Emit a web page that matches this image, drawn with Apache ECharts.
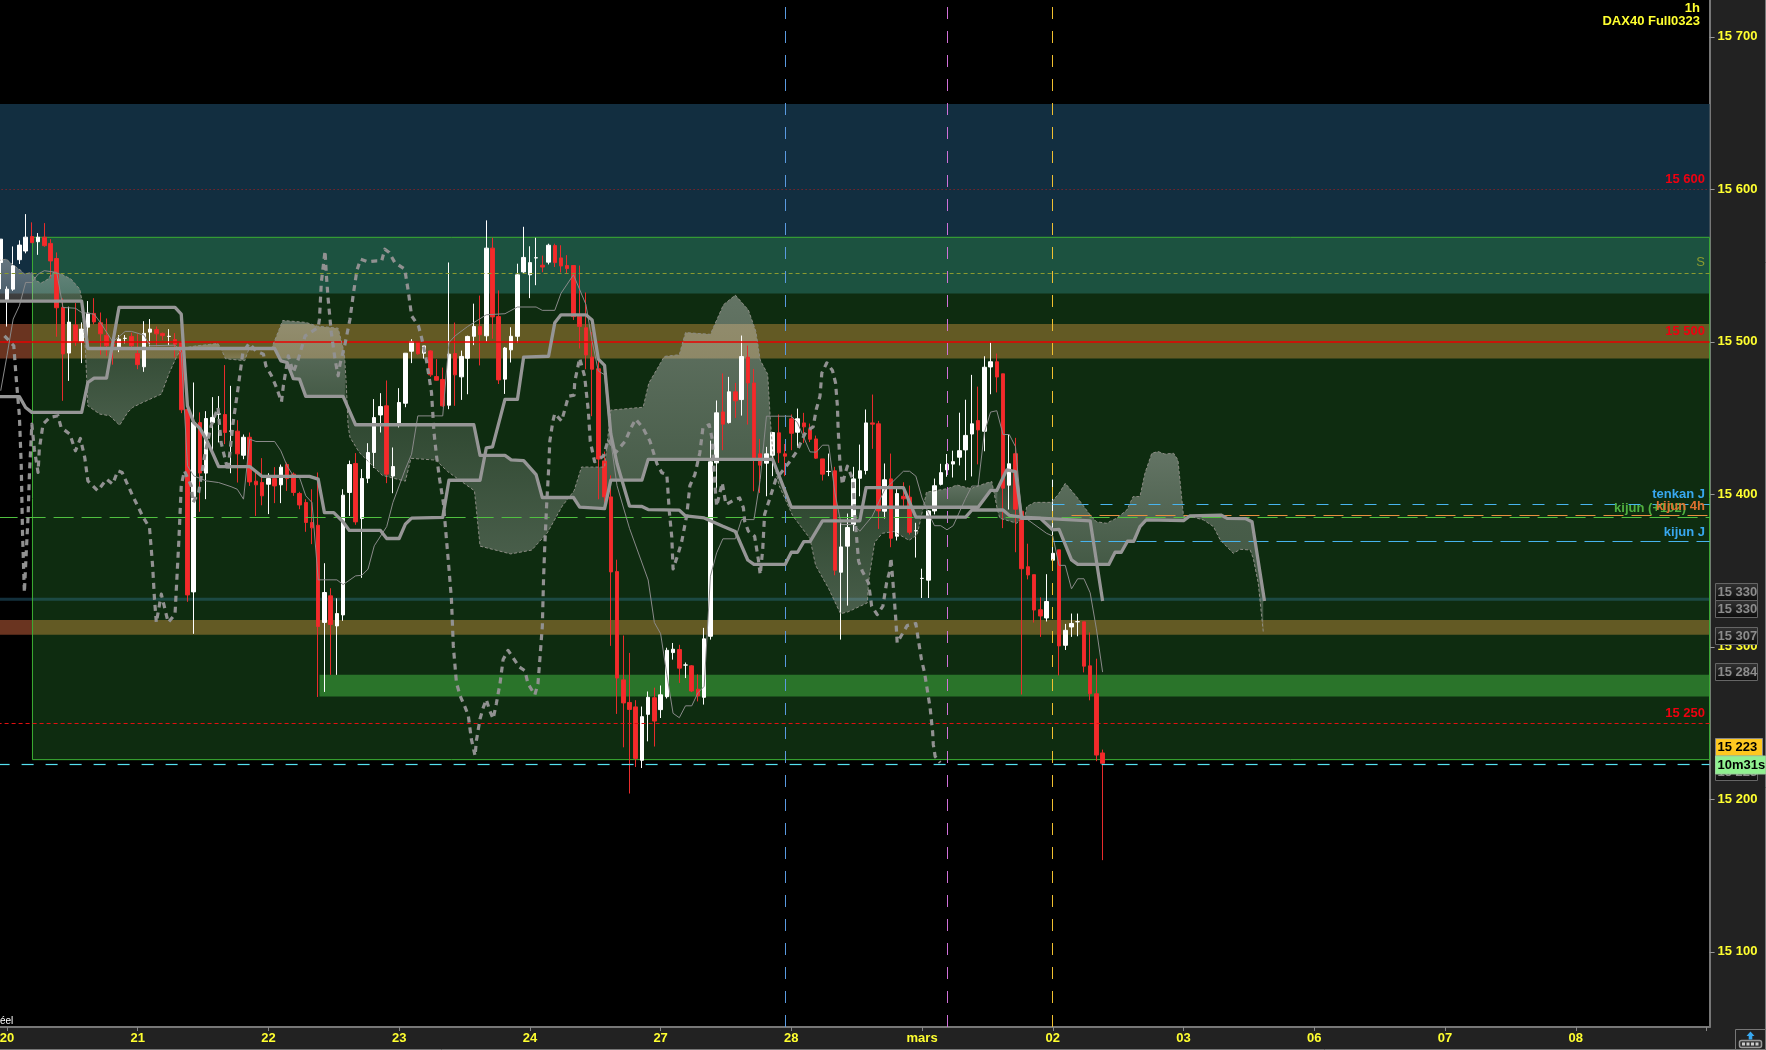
<!DOCTYPE html>
<html><head><meta charset="utf-8"><title>DAX40 Full0323 1h</title>
<style>html,body{margin:0;padding:0;background:#222;overflow:hidden}#c{width:1766px;height:1050px}</style>
<script src="https://cdn.jsdelivr.net/npm/echarts@6/dist/echarts.min.js"></script></head>
<body><div id="c"></div>
<script>
const BAR_SLOTS = 275;
const dayIndex = [1,22,43,64,85,106,127,148,169,190,211,232,253];
const dayLabel = ['20','21','22','23','24','27','28','mars','02','03','06','07','08'];
const priceTicks = [15100,15200,15300,15400,15500,15600,15700];

const candleOpen = [15552,15527.5,15534.5,15553.8,15559.5,15569,15565.6,15568.6,15564.5,15554.6,
15522.5,15492.6,15511,15500.2,15509.6,15518.6,15512.5,15504.2,15498.5,15495.6,
15502.2,15503.5,15492.3,15483.6,15506.3,15508,15505.5,15503.5,15501.5,15499.6,
15455.6,15336,15447,15413.9,15447,15452.6,15452.3,15441.4,15441.4,15425.6,
15437.4,15408.6,15407.7,15406.6,15410.3,15406.2,15419.5,15413.2,15400.5,15394.6,
15381.5,15379.7,15316,15333.4,15313.7,15320.9,15401.2,15420.2,15384.1,15410.5,
15427.4,15452,15458,15412,15446.6,15459.7,15493.8,15499.5,15492.5,15494,
15477.2,15475.3,15458.4,15492.3,15477,15489.2,15503.6,15510,15503.9,15561.4,
15516.5,15475.5,15494.7,15503.6,15545.8,15543.9,15555,15550.2,15552.2,15563.1,
15555,15550,15550,15516.7,15509.2,15490,15482.3,15421.9,15398.3,15349.3,
15278.3,15263.5,15260.6,15225.6,15255.7,15266.6,15258.8,15267.3,15296.2,15298.2,
15288,15287.5,15272.2,15266.9,15306.9,15420.6,15454,15447,15467.2,15462.1,
15489.9,15473,15426.5,15420.4,15425.6,15440.3,15426.5,15449.5,15440.7,15446.8,
15442.7,15436.3,15423.2,15414.9,15415.4,15348.9,15366,15380.2,15410.5,15415.6,
15446.8,15446.2,15388.9,15410.1,15372.5,15398.7,15398.1,15376,15344.8,15343.7,
15389.1,15406.5,15416,15419.8,15424.3,15429.1,15439.5,15448.3,15441.3,15483.5,
15486.9,15479,15406,15426.6,15388.9,15352.5,15347.3,15324.3,15318.9,15356.8,
15363.6,15301,15313,15316.4,15316.4,15287.5,15269.2,15230.4];
const candleClose = [15567.3,15534.5,15549.8,15563.4,15568.6,15565,15568.6,15563,15553,15522.3,
15492,15512.9,15500,15508.3,15518.8,15513,15505.2,15497.4,15497,15501.7,
15502.3,15497.4,15485,15505.5,15508.3,15505.2,15504,15503.6,15498.3,15455.4,
15334,15447.1,15413.9,15449.7,15450.4,15452.7,15440.5,15441.5,15426.5,15437.4,
15408.1,15406.2,15399,15410.3,15405.5,15417.8,15410.3,15401.2,15393,15381.5,
15378,15313.3,15335.6,15314.6,15321.8,15399.4,15419.5,15381.9,15410.3,15427.4,
15450.3,15457.5,15413.2,15418.2,15460.2,15492.5,15500,15492.1,15497.3,15478.3,
15474.8,15458,15491.9,15478.3,15490.4,15503.5,15510,15504.6,15561.4,15516.3,
15475,15495.9,15503.6,15543.9,15555.3,15551.9,15555.1,15549,15563.3,15551.9,
15549.7,15548,15516.5,15510,15491.3,15482,15423.1,15398.3,15349.1,15279.5,
15263.2,15258.9,15226.8,15254.2,15266.9,15251.3,15268.5,15297.7,15298.4,15286,
15288.1,15271,15267.8,15305.2,15421.3,15453.4,15446,15467.2,15461.3,15490.3,
15473,15423.9,15419.1,15426.5,15440.5,15427.2,15425,15440,15449.5,15444.2,
15436.1,15423.7,15413.2,15415,15350.2,15365.5,15378.2,15410.1,15415.4,15446.8,
15446,15389.1,15409.5,15371.2,15400.5,15397,15375.1,15376.1,15344.9,15389.1,
15405.6,15414.2,15419.6,15421.4,15428.6,15438.6,15446.2,15442.2,15483.3,15486.9,
15476.9,15404,15420,15390.2,15351.2,15347.1,15324.1,15320.2,15329.7,15361.3,
15300.6,15310.8,15315.3,15316.5,15287.3,15269.2,15229,15223.6];
const candleLow = [15534.5,15510,15533.4,15551,15558,15564.7,15557,15562.3,15541.7,15503.3,
15461.3,15474.4,15497.4,15486,15497.4,15511.4,15491.5,15490.8,15485,15493.2,
15499,15496.3,15482,15480.3,15497,15497,15501,15497.8,15489.7,15453.2,
15329.5,15308.5,15388.5,15396.8,15425.2,15434,15432.9,15413.8,15407.7,15423,
15405.5,15385.8,15392.8,15387,15394.2,15394.2,15402.2,15399,15390.2,15375.4,
15367.3,15267.1,15270.4,15281.6,15281.6,15317,15385.8,15380,15345.2,15407.3,
15417.3,15440.5,15407.3,15400.7,15443.8,15457.1,15486,15491.6,15489,15477,
15474.4,15457.5,15455.8,15458,15461.9,15465.6,15497.8,15484.5,15500.2,15502,
15472.3,15465.8,15486.4,15499.5,15545.1,15528.6,15537.1,15545.6,15550.7,15549,
15545.4,15545.1,15514.3,15495.6,15482,15451.2,15396.7,15393.5,15300.6,15256,
15234.1,15203.8,15221.2,15220.5,15238,15234.6,15253.3,15266.1,15291.6,15276.3,
15279.5,15270.3,15264.2,15262.1,15304.7,15403.8,15428.9,15446.4,15450.1,15451.6,
15445.7,15402,15400.9,15398.7,15411.9,15420.6,15411.9,15428.9,15430.7,15433.7,
15434.2,15423.2,15409,15411.9,15346.9,15304.7,15327,15375.8,15398.7,15413,
15429.8,15377.3,15384.1,15365.3,15369.7,15391.1,15373.6,15358.5,15332,15332,
15386.8,15405.8,15411.5,15411,15418.9,15409.2,15411.7,15419.6,15428.2,15465.6,
15466.8,15377.8,15390,15362,15268.7,15344.2,15315.9,15306.5,15316.6,15352.8,
15281.2,15297.9,15306.5,15306.9,15283.2,15264.9,15225,15160.1];
const candleHigh = [15567.3,15536.3,15562.5,15566.5,15583.7,15578.3,15571.3,15577.8,15567.3,15558.6,
15528.4,15523,15525.4,15512.7,15526.7,15528.6,15519.2,15515.3,15501.7,15504.4,
15504.4,15506,15505,15513.5,15514.9,15510,15506,15508.3,15505.7,15500.7,
15458,15473.3,15453.7,15454.5,15463.7,15464.4,15484.7,15471.1,15448.6,15439.2,
15440.5,15415.4,15423.7,15413.8,15417.8,15419.5,15420.8,15414.3,15401.6,15396.8,
15403.3,15414.3,15354.8,15338.4,15331.8,15403.3,15422.1,15427,15416.5,15433.5,
15462.4,15466.3,15474.6,15430.7,15469.6,15492.5,15501.7,15500,15497.3,15494.5,
15488.6,15483.1,15552,15512.6,15494.2,15504,15525,15530.3,15579.6,15568.2,
15533.7,15496.6,15509.5,15551.2,15575.4,15562.6,15568.2,15556.5,15564.3,15564.3,
15563.3,15556.8,15550,15550,15532.3,15506.3,15490.5,15428,15412.4,15357.1,
15307.4,15296,15265,15260.8,15270.7,15273.2,15274.6,15299.4,15302.5,15301.3,
15289.7,15288,15281.9,15312.4,15435.2,15461.5,15479.2,15477,15473,15504.1,
15497.5,15482.2,15436.3,15431.1,15440.9,15452.3,15433,15452.3,15456.2,15453.4,
15446.4,15438.5,15423.2,15426.7,15418,15381.3,15387.4,15418,15432.6,15455.6,
15465.4,15448.1,15420.2,15426.7,15403.5,15407.9,15405.7,15381.3,15351.2,15389.6,
15410.3,15420,15426.4,15428.6,15453.5,15462,15478.3,15470.6,15490.5,15499.5,
15492.3,15479,15439,15437,15389.3,15367.6,15347.3,15332.4,15347.6,15409.6,
15363.6,15315,15321.8,15321.8,15316.4,15309.4,15292.2,15232.6];

const senkouBIdx = [-0.5,13,14,44,45,46,47,48,49,55,57,76,77,81,82,84,86,87,92,93,97,98,103,104,124,127,157,159,160,161.6,163,164,167,169,170,172,173,178,179,180,181,182,183,184,190,191,196,197,200,201,203];
const senkouBVal = [15526.7,15526.7,15495.6,15495.6,15487.5,15486.4,15475.9,15475.5,15464.2,15464.2,15445.6,15445.6,15425.5,15425.5,15422.6,15422.1,15412.9,15397.9,15397.9,15391.6,15390.6,15409.3,15409.3,15422.9,15422.9,15391.5,15391.5,15402.5,15402.5,15416,15414.9,15384.2,15384.2,15376.6,15377,15357,15354,15354,15362,15362,15369.2,15369.2,15378.8,15383.2,15382.7,15385.8,15386.4,15384.2,15384,15382,15330];

const kijunIdx = [-0.5,3,4,5,13,14,15,17,19,28,29,30,31,32,33,34,35,40,42,49.6,51,52,53.5,55,56,61,62,64,65,66,71,72,77,78,79,81,83,84,88,89,90,94,95,96,97,98,99,101,103,104,109,110,113,116,118,120,121,126,127,128,129,130,132,138,139,145,147,155,156,161,162,164,175,177];
const kijunVal = [15464.1,15464.1,15456.9,15453.7,15453.7,15473.3,15476.2,15476.2,15522.5,15522.5,15518.1,15458,15447.1,15443.2,15436.2,15427.4,15418.2,15418.2,15411.7,15411.7,15409.9,15388,15388,15381.9,15376.3,15376.3,15371,15371,15380.4,15384.4,15384.8,15409.2,15409.2,15430.4,15431.1,15462.2,15462.2,15490,15490.5,15512.4,15517.7,15517.7,15514.3,15488.6,15484.5,15439.6,15420.2,15392.3,15392,15390,15389.6,15385.8,15384.5,15379,15375.6,15356.9,15354,15354,15362,15362,15369,15369,15382.6,15382.6,15404.4,15404.4,15385,15385,15389.7,15389.7,15386.2,15385,15382.6,15330];

const tenkanIdx = [0,1,2,3,4,5,6,7,9,10,12,13,15,16,18,20,21,23,24,28,29,30,31,33,35,37,38,39,40,41,44,45,46,47,48,49,50,51,54,55,57,58,59,60,62,63,65,66,67,71,72,73,75,78,81,83,86,87,89,90,92,94,95,96,97,98,99,101,104,105,106,107,108,109,110,111,112,113,114,115,116,118,119,121,122,123,127,128,130,131,132,133,134,135,137,138,140,142,145,146,147,148,149,150,151,152,153,155,156,157,158,159,160,161,162,163,164,168,169,170,171,172,173,174,175,176,177];
const tenkanVal = [15467.9,15490.8,15514.9,15523.6,15538.9,15538.9,15544.4,15546.6,15545.5,15522.5,15522,15519.2,15518.1,15512.7,15500,15506.8,15506.8,15504.4,15497.4,15497.8,15493,15418.7,15412.1,15408.8,15407.7,15405,15403.3,15396.8,15436.1,15434.6,15434.6,15428.5,15418.6,15412.1,15411,15399,15394.6,15343.9,15343.9,15340.8,15346.5,15346.9,15350.9,15366.2,15378.8,15394.6,15416.5,15426.3,15451.4,15451.4,15499.5,15503.9,15510,15517.7,15518.4,15522.8,15522.8,15520.6,15520.6,15531.8,15543.9,15524.5,15500.2,15480.8,15478.4,15434.7,15405.6,15377.7,15343.8,15315.9,15308.6,15281.9,15256.4,15253.5,15261.3,15261.3,15269.8,15274.1,15346.3,15361.6,15370.8,15370.8,15383.4,15383.4,15409.7,15451.2,15451.2,15446.8,15427.8,15427.6,15432.2,15432.2,15400.9,15380.2,15380.2,15375.8,15385.6,15403.1,15415.1,15415.1,15411.9,15397.6,15387.8,15379.4,15379.4,15376.7,15379.4,15397.4,15405.4,15405.4,15440.4,15453.9,15454.8,15439.2,15439.2,15431.3,15386.2,15374.4,15372.6,15353.4,15353.4,15338,15344.6,15344.6,15335.4,15311.7,15283.4];

const senkouAIdx = [-0.5,0.9,2,3.3,3.8,5,5.7,6.5,7.6,8.4,9.7,11.3,12.7,13,13.6,14,15.9,17.5,19.1,20.4,21.2,22.8,25.8,27.1,28.2,29,31.2,34.9,35.5,36.1,39.2,39.8,43.5,45.3,49,50.9,54.2,55.2,55.5,55.8,56.1,57.6,61.3,65,65.9,69.9,71.8,76.1,77,81.9,85.3,87.8,90.2,92.1,93.3,97,98,103.2,104.1,106.6,109,110,114,116.1,118,120.1,121.3,122,123.2,123.6,124.1,125,127.2,130,130.9,133,134.9,136.1,139.2,139.4,140.4,141.6,143.5,145.9,147.2,148.1,148.7,152.1,153.6,155.8,158.2,159.2,160.1,160.5,163.2,164,164.5,164.8,166.1,168.8,170,171,172.8,175,176,177.6,179.2,180.9,181.9,183,183.8,184.9,185.9,187,188.4,189.1,190,190.8,193.2,194.8,195.9,198,199.1,200.7,201.2,202,202.8];
const senkouAVal = [15553.1,15554.2,15550.3,15546.6,15544.4,15545.5,15540,15538.5,15541.1,15545.5,15544.4,15541.1,15534.5,15528,15495.2,15458,15452.6,15451.5,15445.3,15453.7,15457,15460.2,15465.7,15479.9,15489.7,15495.6,15497.2,15498.9,15494.6,15488.9,15487.6,15494.6,15495.6,15514,15512.7,15510.2,15508.9,15492.6,15472.6,15445,15437.4,15427.4,15412.4,15408.6,15423.6,15422.4,15414.9,15402.3,15366,15360.9,15363.4,15374.7,15392.3,15402.3,15417.9,15417.8,15455.2,15457.1,15472.8,15490.4,15491.5,15506,15504.9,15524.3,15530.6,15520.8,15506.8,15488,15478.7,15450.6,15422.9,15406,15386.1,15370.9,15353.4,15338.1,15321.7,15322.9,15328.8,15342.8,15368.6,15374.4,15375.6,15369.8,15373.3,15389.7,15401.4,15403.7,15406.1,15403.7,15407.2,15408.4,15389.7,15384.3,15381,15384.2,15384.2,15391.9,15394.7,15394.7,15400.6,15407.2,15398.5,15386.4,15382,15381,15384.2,15389.7,15398.5,15398.5,15413.8,15426.9,15428,15426.4,15426.9,15422.5,15385.3,15385.8,15383.2,15378.8,15370,15361.3,15363.9,15363.5,15358,15341.6,15310];
const cloudStart = [-0.5,13,29,35.5,39.8,55.3,91,124.1,148.1,160.1,164,190];
const cloudEnd   = [13,29,35.5,39.8,55.3,91,124.1,148.1,160.1,164,190,202.8];
const cloudLight = [1,0,1,0,1,0,1,0,1,0,1,0.6];

const chikouIdx = [0.6,2.1,2.5,3,3.3,3.5,3.8,4.1,4.4,4.6,5,5.4,6,6.2,6.8,7.9,9.2,9.7,11.1,12,12.8,13.5,14,15.6,17,18,18.8,19.5,21.2,22.9,23.9,24.4,24.7,25,25.8,26.9,28,28.6,29,29.5,30.6,30.9,31.8,32.8,33.8,34.9,35.4,36.5,37.3,38.1,38.9,39.9,41,42.2,42.6,43.5,44.3,45.1,45.4,46.2,47,47.8,48.9,51,51.2,51.5,52.1,52.3,52.6,53.1,53.7,54.2,54.5,55.3,56.1,56.6,57.2,57.8,59,60.4,61.2,61.7,62.4,63.3,64.9,65.5,66,67.1,67.6,68.4,69.2,69.6,70,70.5,71.1,71.6,71.9,72.4,72.7,73.2,73.8,74.5,75.1,75.6,76.2,76.4,77,77.5,78,78.6,79.1,79.6,80.2,80.7,81.5,82.3,83.3,84.2,84.7,85.8,86.3,86.6,87,87.2,87.4,87.7,88,88.2,88.7,89,90.1,90.6,91.2,92.1,92.2,93,93.8,94.4,94.7,95.4,96.8,97.6,98.8,100.3,101.2,102,103.2,104.3,105.4,106.2,107,107.4,107.8,108,108.8,109.4,110.2,110.7,111.5,112.3,112.8,113.8,114.3,114.7,115,115.9,116.5,117.9,118.7,119.3,119.5,120.1,121.1,121.7,122,122.4,122.7,123.4,124.5,126.8,127.9,128.6,129.4,130.5,131,131.6,131.9,132.7,133.6,134.1,134.4,134.5,134.8,135.2,135.6,136,136.9,137.2,137.6,137.8,138.4,139.4,139.9,140.8,141.7,142.3,142.8,143,143.2,143.5,143.8,144,144.6,145.6,147,147.6,147.9,148.4,149,149.3,149.5,149.7,149.8,150.1,150.9];
const chikouVal = [15503.9,15497.4,15475.5,15451.5,15418.7,15375,15335.6,15361.8,15385.9,15412.1,15446,15429.6,15414.3,15429.6,15446,15450.4,15451.5,15443.8,15439.4,15428.5,15436.6,15424.1,15408.8,15402.3,15409.9,15406.7,15415.4,15414.3,15399,15384.8,15378.2,15353.1,15331.2,15315.9,15334.5,15315.9,15321.4,15368.4,15405.6,15415.4,15405.6,15394.6,15401.2,15426.3,15444.9,15456.9,15434,15415.4,15446,15468.9,15493,15499,15494,15491.9,15484.2,15477.7,15470,15460.6,15471.1,15490.8,15479.8,15488.6,15503.9,15509.4,15514.8,15538.9,15559.6,15544.3,15527.9,15506.1,15488.6,15477.7,15485.3,15498.4,15514.8,15530.1,15546.5,15554.2,15552.4,15553.1,15553.1,15560.7,15558.5,15552,15547.6,15532.3,15517,15510.4,15502.8,15487.5,15466.7,15440.5,15425.2,15409.9,15394.6,15370.5,15356.3,15331.2,15300.6,15276.5,15267.8,15261.3,15255.2,15239.4,15228.5,15238.2,15252.8,15260,15265.4,15257.6,15252.8,15262.5,15275.8,15291.6,15297.7,15292.8,15286.8,15284.3,15275.8,15268.5,15275.8,15291.6,15313.4,15345,15366.8,15393.5,15415.3,15434.7,15448,15452.9,15448,15455.4,15464.3,15465,15473.6,15489.3,15477.2,15454.2,15434.7,15421.4,15425,15436,15427.5,15434.7,15443.2,15449.3,15443.2,15434.7,15420.2,15414.1,15412.9,15388.6,15371.7,15351,15360.7,15369.2,15386.2,15405.6,15412.9,15427.2,15443.6,15445.7,15435.9,15407.5,15392.2,15407.5,15393.3,15396.6,15397.6,15391.1,15382.3,15375.8,15372.5,15357.2,15347.4,15363.8,15386.7,15395.5,15409.7,15421.7,15428.2,15434.8,15441.4,15444.2,15455.6,15464.3,15479.6,15486.2,15481.2,15473.1,15457.8,15444.6,15420.6,15406.4,15413,15418.4,15409.7,15385.6,15365.9,15356.1,15349.6,15341.9,15326.6,15321.1,15326.6,15341.9,15349.6,15358.3,15348.5,15333.2,15316.8,15302.6,15306.9,15313.9,15315.2,15299.3,15291.6,15282.9,15267.6,15259.7,15251.8,15243.9,15236,15228.1,15224];

const PMIN = 15050.7, PMAX = 15724.1, XMIN = -0.5, XMAX = 274.5;
const sp = (n)=>{const s=String(n);return s.slice(0,2)+' '+s.slice(2);};
const zip = (a,b)=>a.map((v,i)=>[v,b[i]]);
const interp = (xs,ys,x)=>{ for(let k=1;k<xs.length;k++){ if(x<=xs[k]){const t=(x-xs[k-1])/(xs[k]-xs[k-1]);return ys[k-1]+t*(ys[k]-ys[k-1]);}} return ys[ys.length-1];};

const xCats = Array.from({length:BAR_SLOTS},(_,i)=>{const p=dayIndex.indexOf(i);return p>=0?dayLabel[p]:'';});
const tickSet = new Set(dayIndex.concat([BAR_SLOTS-1]));
const labelSet = new Set(dayIndex);
const candleData = candleOpen.map((o,i)=>[o,candleClose[i],candleLow[i],candleHigh[i]]);

const area = (x0,x1,v0,v1,fill,extra)=>[{xAxis:x0,yAxis:v0,itemStyle:Object.assign({color:fill},extra||{})},{xAxis:x1,yAxis:v1}];
const zoneX = 5.1, strongX = 51.2;
const bandSeries = {type:'line',xAxisIndex:1,data:[],silent:true,z:1,animation:false,
  markArea:{silent:true,animation:false,data:[
    area(XMIN,XMAX,15655.9,15531.7,'#122e40'),
    area(zoneX,XMAX,15568.5,15226,'#0e2c10'),
    area(zoneX,XMAX,15568.5,15531.7,'#1c5240'),
    area(XMIN,zoneX,15511.6,15489.1,'#6a3420'),
    area(zoneX,XMAX,15511.6,15489.1,'#635a24'),
    area(XMIN,zoneX,15317.5,15307.9,'#6a3420'),
    area(zoneX,XMAX,15317.5,15307.9,'#635a24'),
    area(XMIN,zoneX,15332.2,15330.2,'#13303c'),
    area(zoneX,XMAX,15332.2,15330.2,'#1c4a44'),
    area(strongX,XMAX,15281.6,15267.4,'#2a742a'),
    area(zoneX,XMAX,15568.5,15226,'rgba(0,0,0,0)',{borderColor:'#3cb034',borderWidth:1})
  ]}};
const hl = (v,color,type,width)=>({yAxis:v,lineStyle:{color,type,width:width||1}});
const seg = (x0,v,color,type)=>[{xAxis:x0,yAxis:v,lineStyle:{color,type,width:1}},{xAxis:XMAX,yAxis:v}];
const vl = (x,color)=>({xAxis:x,lineStyle:{color,type:[12,12],width:1}});
const ruleSeries = {type:'line',xAxisIndex:1,data:[],silent:true,z:3,animation:false,
  markLine:{silent:true,animation:false,symbol:'none',label:{show:false},data:[
    hl(15600,'#b02020',[1,3]),
    hl(15545,'#8a9a30',[4,3]),
    hl(15500,'#e80000','solid',1.5),
    hl(15385,'#50c040',[20,8]),
    hl(15250,'#e01010',[4,3]),
    hl(15223,'#55e0f0',[12,12],1.2),
    seg(168.95,15393.4,'#48b4ee',[12,12]),
    seg(168.95,15369.2,'#48b4ee',[20,8]),
    seg(172,15386.2,'#e89040',[20,8]),
    vl(126.06,'#5a9ae0'),vl(152.08,'#d070d8'),vl(168.95,'#f0c030')
  ]}};
const cloudSeries = {type:'custom',xAxisIndex:1,z:2,silent:true,animation:false,clip:true,
  data:cloudStart.map((s,i)=>[s,cloudEnd[i],cloudLight[i]]),
  encode:{x:[0,1]},
  renderItem(params,api){
    const a=api.value(0), b=api.value(1), kind=api.value(2);
    const top=[], bot=[];
    top.push([a,interp(senkouAIdx,senkouAVal,a)]);
    senkouAIdx.forEach((x,k)=>{if(x>a&&x<b)top.push([x,senkouAVal[k]]);});
    top.push([b,interp(senkouAIdx,senkouAVal,b)]);
    bot.push([a,interp(senkouBIdx,senkouBVal,a)]);
    senkouBIdx.forEach((x,k)=>{if(x>a&&x<b)bot.push([x,senkouBVal[k]]);});
    bot.push([b,interp(senkouBIdx,senkouBVal,b)]);
    const pts=top.concat(bot.reverse()).map(p=>api.coord(p));
    let stops;
    if(kind===1) stops=[[0,'rgba(208,208,208,0.44)'],[1,'rgba(208,208,208,0.28)']];
    else if(kind===0) stops=[[0,'rgba(208,208,208,0.12)'],[1,'rgba(208,208,208,0.30)']];
    else stops=[[0,'rgba(208,208,208,0.30)'],[1,'rgba(208,208,208,0.26)']];
    return {type:'polygon',shape:{points:pts},style:{fill:new echarts.graphic.LinearGradient(0,0,0,1,stops.map(s=>({offset:s[0],color:s[1]})))}};
  }};
const lineS = (idx,val,color,width,type,z)=>({type:'line',xAxisIndex:1,data:zip(idx,val),showSymbol:false,symbol:'none',silent:true,animation:false,z,
  lineStyle:{color,width,type,join:'round',cap:'butt'}});

const chart = echarts.init(document.getElementById('c'),null,{renderer:'canvas'});
chart.setOption({
  animation:false,backgroundColor:'transparent',
  grid:{left:-2.4,top:0,width:1712,height:1027,show:true,backgroundColor:'#000',borderWidth:0,outerBoundsMode:'none',containLabel:false},
  xAxis:[
    {type:'category',data:xCats,boundaryGap:true,
      axisLine:{show:true,lineStyle:{color:'#777',width:2}},
      axisTick:{show:true,alignWithLabel:true,length:4,lineStyle:{color:'#888'},interval:(i)=>tickSet.has(i)},
      axisLabel:{show:true,interval:(i)=>labelSet.has(i),color:'#ffff30',fontFamily:'Liberation Sans',fontWeight:'bold',fontSize:13,margin:5,hideOverlap:false},
      splitLine:{show:false}},
    {type:'value',min:XMIN,max:XMAX,show:false,splitLine:{show:false}}
  ],
  yAxis:[{type:'value',position:'right',min:PMIN,max:PMAX,scale:true,
    axisLine:{show:true,onZero:false,lineStyle:{color:'#777',width:2}},
    axisTick:{show:true,length:5,lineStyle:{color:'#999'},customValues:priceTicks},
    axisLabel:{show:true,color:'#ffff30',fontFamily:'Liberation Sans',fontWeight:'bold',fontSize:13,margin:8,formatter:(v)=>sp(v),customValues:priceTicks},
    splitLine:{show:false}}],
  series:[
    bandSeries,
    cloudSeries,
    ruleSeries,
    {type:'candlestick',xAxisIndex:0,z:4,data:candleData,barWidth:4,silent:true,animation:false,
      itemStyle:{color:'#ffffff',color0:'#f52a2a',borderColor:'#ffffff',borderColor0:'#e82c2c',borderWidth:1}},
    lineS(senkouAIdx,senkouAVal,'#8c8c84',1,[3,2],5),
    lineS(chikouIdx,chikouVal,'#919191',3.2,[6,5],5),
    lineS(tenkanIdx,tenkanVal,'#8a8a8a',1,'solid',6),
    lineS(senkouBIdx,senkouBVal,'#969696',3.3,'solid',7),
    lineS(kijunIdx,kijunVal,'#969696',3.3,'solid',7)
  ]
});

const Y=(v)=>chart.convertToPixel({yAxisIndex:0},v);
const F='Liberation Sans';
const txt=(s,x,y,fill,align,size,weight,z)=>({type:'text',z:z||50,style:{text:s,x,y,fill,align:align||'right',verticalAlign:'middle',font:(weight||'bold')+' '+(size||13)+'px "'+F+'"'}});
const box=(x,y,w,h,fill,stroke,z)=>({type:'rect',z:z||50,shape:{x,y,width:w,height:h},style:{fill,stroke,lineWidth:1}});
const darkGrad={type:'linear',x:0,y:0,x2:0,y2:1,colorStops:[{offset:0,color:'#333'},{offset:1,color:'#0c0c0c'}]};
const tagBox=(cy,v)=>[box(1715.5,cy-8.5,42,17,darkGrad,'#666',60),txt(sp(v),1717.5,cy+0.5,'#8c8c8c','left',13,'bold',61)];
const rightX=1705;
const gfx=[
  txt('1h',1700,8,'#ffff30'),
  txt('DAX40 Full0323',1700,21,'#ffff30'),
  txt('15 600',rightX,Y(15600)-10,'#f00010'),
  txt('15 500',rightX,Y(15500)-10,'#f00010'),
  txt('15 250',rightX,Y(15250)-10,'#f00010'),
  txt('S',rightX,262,'#8a9a30','right',13,'normal'),
  txt('tenkan J',rightX,494,'#38a8f0'),
  txt('kijun (+102)',1686,508,'#50b040'),
  txt('kijun 4h',rightX,506,'#e07030'),
  txt('kijun J',rightX,532,'#38a8f0'),
  txt('éel',0,1021,'#ffffff','left',10,'normal'),
  ...tagBox(592,15330),
  ...tagBox(609,15330),
  ...tagBox(636,15307),
  ...tagBox(672,15284),
  ...tagBox(772,15223),
  box(1715.5,738.5,47,17.5,'#ffc820','#888',62),
  txt('15 223',1717.5,747.5,'#000','left',13,'bold',63),
  box(1715.5,756,50,18,'#90f090','#9ad09a',64),
  txt('10m31s',1717.5,765.5,'#000','left',13,'bold',65),
  {type:'line',z:40,shape:{x1:1765.5,y1:0,x2:1765.5,y2:1050},style:{stroke:'#777',lineWidth:1}},
  {type:'line',z:40,shape:{x1:0,y1:1049.5,x2:1766,y2:1049.5},style:{stroke:'#777',lineWidth:1}},
  box(1735.5,1029.5,30,20,'#222','#777',41),
  {type:'rect',z:42,shape:{x:1739.5,y:1040.5,width:22,height:7,r:2},style:{fill:'#333',stroke:'#999',lineWidth:1.5}},
  {type:'rect',z:43,shape:{x:1742,y:1042.5,width:3,height:3},style:{fill:'#ccc'}},
  {type:'rect',z:43,shape:{x:1746.5,y:1042.5,width:3,height:3},style:{fill:'#ccc'}},
  {type:'rect',z:43,shape:{x:1751,y:1042.5,width:3,height:3},style:{fill:'#ccc'}},
  {type:'rect',z:43,shape:{x:1755.5,y:1042.5,width:3,height:3},style:{fill:'#ccc'}},
  {type:'polygon',z:43,shape:{points:[[1750.5,1031.5],[1754.5,1036],[1752.3,1036],[1752.3,1039.5],[1748.7,1039.5],[1748.7,1036],[1746.5,1036]]},style:{fill:'#38a8f0'}}
];
chart.setOption({graphic:{elements:gfx}});
</script></body></html>
